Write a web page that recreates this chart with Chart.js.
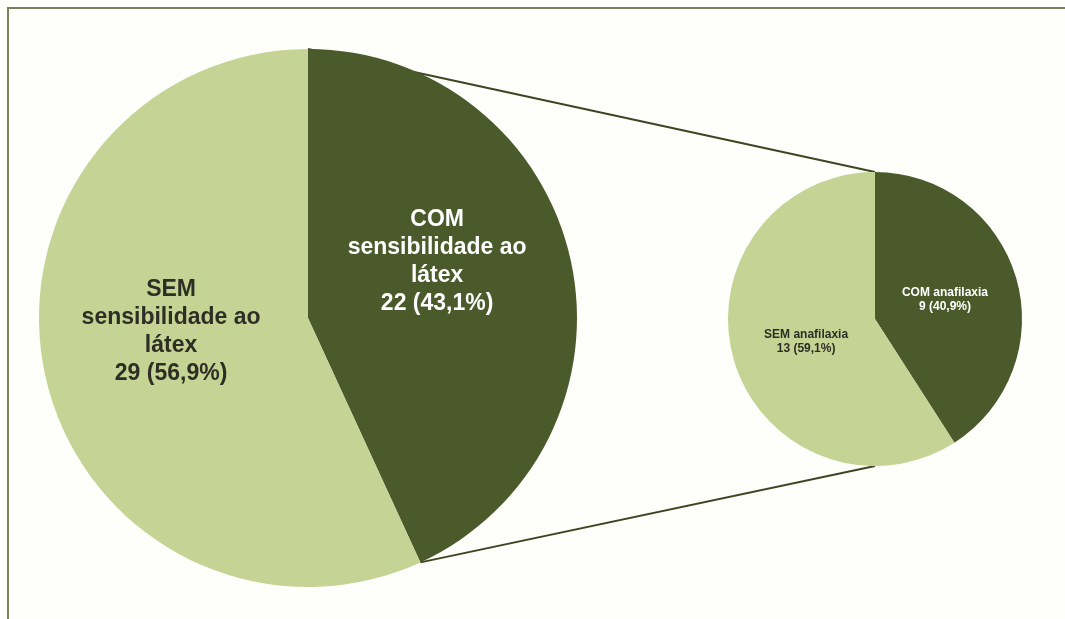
<!DOCTYPE html>
<html>
<head>
<meta charset="utf-8">
<script src="https://cdn.jsdelivr.net/npm/chart.js@4.4.1/dist/chart.umd.min.js"></script>
<style>
  body { margin: 0; background: #fefefa; width: 1065px; height: 619px; overflow: hidden; position: relative; }
  .frame { position: absolute; left: 7px; top: 7px; width: 1070px; height: 620px;
           border-left: 2px solid #73835a; border-top: 2px solid #73835a; }
  canvas { position: absolute; left: 0; top: 0; }
</style>
</head>
<body>
<div class="frame"></div>
<canvas id="bigPie" width="1065" height="619"></canvas>
<canvas id="smallPie" width="1065" height="619"></canvas>
<script>
// Main pie: latex sensitivity
const bigLabels = [['COM', 'sensibilidade ao', 'látex'], ['SEM', 'sensibilidade ao', 'látex']];
const bigValues = [22, 29];
const bigPercents = ['43,1%', '56,9%'];

// Secondary pie: anaphylaxis among the sensitive ones
const smallLabels = [['COM anafilaxia'], ['SEM anafilaxia']];
const smallValues = [9, 13];
const smallPercents = ['40,9%', '59,1%'];

const darkGreen = '#4b5a2b';
const lightGreen = '#c5d394';

// where each slice label sits, as a fraction of the radius from the pie centre
function sliceLabels(lines, values, percents, offsets, font, lineHeight, colors) {
    return {
        id: 'sliceLabels',
        afterDatasetsDraw(chart) {
            const ctx = chart.ctx;
            const arcs = chart.getDatasetMeta(0).data;
            ctx.save();
            ctx.font = font;
            ctx.textAlign = 'center';
            ctx.textBaseline = 'middle';
            arcs.forEach((arc, i) => {
                const text = lines[i].concat([values[i] + ' (' + percents[i] + ')']);
                const cx = arc.x + offsets[i][0] * arc.outerRadius;
                const cy = arc.y + offsets[i][1] * arc.outerRadius;
                const top = cy - (text.length - 1) * lineHeight / 2;
                ctx.fillStyle = colors[i];
                text.forEach((t, k) => ctx.fillText(t, cx, top + k * lineHeight));
            });
            ctx.restore();
        }
    };
}

const smallChart = new Chart(document.getElementById('smallPie'), {
    type: 'pie',
    data: {
        labels: smallLabels.map(l => l.join(' ')),
        datasets: [{
            data: smallValues,
            backgroundColor: [darkGreen, lightGreen],
            borderWidth: 0
        }]
    },
    options: {
        responsive: false,
        animation: false,
        layout: { padding: { left: 728, right: 43, top: 172, bottom: 153 } },
        plugins: { legend: { display: false }, tooltip: { enabled: false } }
    },
    plugins: [sliceLabels(smallLabels, smallValues, smallPercents,
        [[0.476, -0.129], [-0.469, 0.156]], 'bold 12px "Liberation Sans", Arial, sans-serif', 14,
        ['#ffffff', '#2e2e24'])]
});

// connector lines from the COM slice edges of the big pie to the small pie
const connectors = {
    id: 'connectors',
    beforeDatasetsDraw(chart) {
        const big = chart.getDatasetMeta(0).data[0];
        const small = smallChart.getDatasetMeta(0).data[0];
        const ctx = chart.ctx;
        const p1 = [big.x + big.outerRadius * Math.cos(big.startAngle), big.y + big.outerRadius * Math.sin(big.startAngle)];
        const p2 = [big.x + big.outerRadius * Math.cos(big.endAngle), big.y + big.outerRadius * Math.sin(big.endAngle)];
        ctx.save();
        ctx.strokeStyle = '#3c4722';
        ctx.lineWidth = 2;
        ctx.beginPath();
        ctx.moveTo(p1[0], p1[1]);
        ctx.lineTo(small.x, small.y - small.outerRadius);
        ctx.moveTo(p2[0], p2[1]);
        ctx.lineTo(small.x, small.y + small.outerRadius);
        ctx.stroke();
        ctx.restore();
    }
};

const bigChart = new Chart(document.getElementById('bigPie'), {
    type: 'pie',
    data: {
        labels: bigLabels.map(l => l.join(' ')),
        datasets: [{
            data: bigValues,
            backgroundColor: [darkGreen, lightGreen],
            borderWidth: 0
        }]
    },
    options: {
        responsive: false,
        animation: false,
        layout: { padding: { left: 39, right: 488, top: 49, bottom: 32 } },
        plugins: { legend: { display: false }, tooltip: { enabled: false } }
    },
    plugins: [connectors, sliceLabels(bigLabels, bigValues, bigPercents,
        [[0.48, -0.208], [-0.509, 0.052]], 'bold 23px "Liberation Sans", Arial, sans-serif', 28,
        ['#ffffff', '#2e2e24'])]
});
</script>
</body>
</html>
